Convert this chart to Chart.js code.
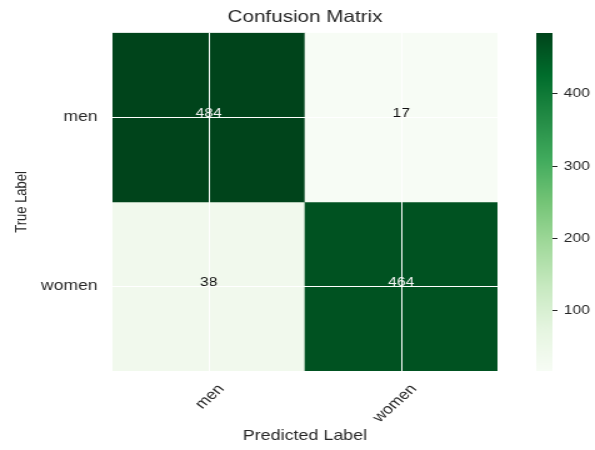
<!DOCTYPE html>
<html>
<head>
<meta charset="utf-8">
<script src="https://cdn.jsdelivr.net/npm/chart.js@4"></script>
<style>
  html, body { margin: 0; padding: 0; background: #ffffff; }
  #wrap { position: relative; width: 595px; height: 450px; overflow: hidden; }
</style>
</head>
<body>
<div id="wrap">
  <canvas id="heat" width="476" height="450" style="position:absolute;left:0;top:0;width:595px;height:450px;"></canvas>
  <canvas id="cbar" width="476" height="450" style="position:absolute;left:0;top:0;width:595px;height:450px;"></canvas>
</div>
<script>
// ---- data ----
const predictedLabels = ['men', 'women'];
const trueLabels = ['men', 'women'];
const rowMen = [484, 17];
const rowWomen = [38, 464];
const matrix = [rowMen, rowWomen];
const colorbarTicks = [100, 200, 300, 400];
const chartTitle = 'Confusion Matrix';
const xTitle = 'Predicted Label';
const yTitle = 'True Label';

// ---- matplotlib "Greens" colormap ----
const greens = [
  [247,252,245],[229,245,224],[199,233,192],[161,217,155],[116,196,118],
  [65,171,93],[35,139,69],[0,109,44],[0,68,27]
];
const allVals = matrix.flat();
const vMin = Math.min(...allVals);
const vMax = Math.max(...allVals);
function cmap(t) {
  t = Math.max(0, Math.min(1, t));
  const p = t * (greens.length - 1);
  const i = Math.min(greens.length - 2, Math.floor(p));
  const f = p - i;
  const a = greens[i], b = greens[i + 1];
  const c = a.map((v, k) => Math.round(v + (b[k] - v) * f));
  return `rgb(${c[0]},${c[1]},${c[2]})`;
}
const colorFor = v => cmap((v - vMin) / (vMax - vMin));

const FONT = "'Liberation Sans', Arial, sans-serif";
const TXT = '#262626';
Chart.defaults.font.family = FONT;
Chart.defaults.color = TXT;

// one floating-bar dataset per true-label row
const datasets = matrix.map((row, i) => ({
  label: trueLabels[i],
  data: row.map(() => [i, i + 1]),
  backgroundColor: row.map(colorFor),
  borderWidth: 0,
  barPercentage: 1,
  categoryPercentage: 1,
  grouped: false
}));

const cellText = {
  id: 'cellText',
  afterDatasetsDraw(chart) {
    const { ctx, scales: { x, y } } = chart;
    const thresh = vMax / 2;
    ctx.save();
    ctx.font = `12.5px ${FONT}`;
    ctx.textAlign = 'center';
    ctx.textBaseline = 'alphabetic';
    matrix.forEach((row, i) => {
      row.forEach((v, j) => {
        ctx.fillStyle = v > thresh ? '#f4f4f4' : '#111111';
        ctx.fillText(String(v), x.getPixelForValue(j), y.getPixelForValue(i + 0.5));
      });
    });
    ctx.restore();
  }
};

new Chart(document.getElementById('heat'), {
  type: 'bar',
  data: { labels: predictedLabels, datasets },
  plugins: [cellText],
  options: {
    responsive: false,
    devicePixelRatio: 1,
    animation: false,
    layout: { padding: { left: 0, right: 78, top: 0, bottom: 0 } },
    plugins: {
      legend: { display: false },
      tooltip: { enabled: false },
      title: {
        display: true, text: chartTitle, fullSize: false, color: TXT,
        font: { size: 16.5, weight: 'normal', family: FONT },
        padding: { top: 8, bottom: 5 }
      }
    },
    scales: {
      x: {
        type: 'category',
        offset: true,
        grid: { offset: false, color: '#ffffff', lineWidth: 1, drawTicks: false, z: 1 },
        border: { display: false },
        ticks: {
          autoSkip: false, minRotation: 48, maxRotation: 48,
          padding: 10, labelOffset: 10, color: TXT,
          font: { size: 14, family: FONT }
        },
        title: {
          display: true, text: xTitle, color: TXT,
          font: { size: 14.3, family: FONT }, padding: { top: 4, bottom: 5 }
        },
        afterFit(s) { s.height = 79; }
      },
      y: {
        type: 'linear',
        min: 0, max: matrix.length,
        reverse: true,
        afterBuildTicks(s) { s.ticks = trueLabels.map((_, i) => ({ value: i + 0.5 })); },
        grid: { color: '#ffffff', lineWidth: 1, drawTicks: false, z: 1 },
        border: { display: false },
        ticks: {
          padding: 12, color: TXT, font: { size: 14, family: FONT },
          callback: v => trueLabels[Math.floor(v)]
        },
        title: {
          display: true, text: yTitle, color: TXT,
          font: { size: 13, family: FONT }, padding: { top: 10, bottom: 0 }
        },
        afterFit(s) { s.width = 90; }
      }
    }
  }
});

// ---- colorbar ----
function gradientFill(context) {
  const chart = context.chart;
  const a = chart.chartArea;
  if (!a) return cmap(0.5);
  const g = chart.ctx.createLinearGradient(0, a.bottom, 0, a.top);
  greens.forEach((c, i) => g.addColorStop(i / (greens.length - 1), `rgb(${c[0]},${c[1]},${c[2]})`));
  return g;
}

new Chart(document.getElementById('cbar'), {
  type: 'bar',
  data: {
    labels: [''],
    datasets: [{
      data: [[vMin, vMax]],
      backgroundColor: gradientFill,
      borderWidth: 0,
      barPercentage: 1,
      categoryPercentage: 1
    }]
  },
  options: {
    responsive: false,
    devicePixelRatio: 1,
    animation: false,
    layout: { padding: { left: 429, right: 0, top: 33, bottom: 79 } },
    plugins: { legend: { display: false }, tooltip: { enabled: false }, title: { display: false } },
    scales: {
      x: { display: false },
      y: {
        position: 'right',
        min: vMin, max: vMax,
        afterBuildTicks(s) { s.ticks = colorbarTicks.map(v => ({ value: v })); },
        grid: { drawOnChartArea: false, drawTicks: true, tickLength: 4, color: TXT, lineWidth: 1 },
        border: { display: false },
        ticks: { padding: 5, color: TXT, font: { size: 12.5, family: FONT } },
        afterFit(s) { s.width = 34; }
      }
    }
  }
});
</script>
</body>
</html>
